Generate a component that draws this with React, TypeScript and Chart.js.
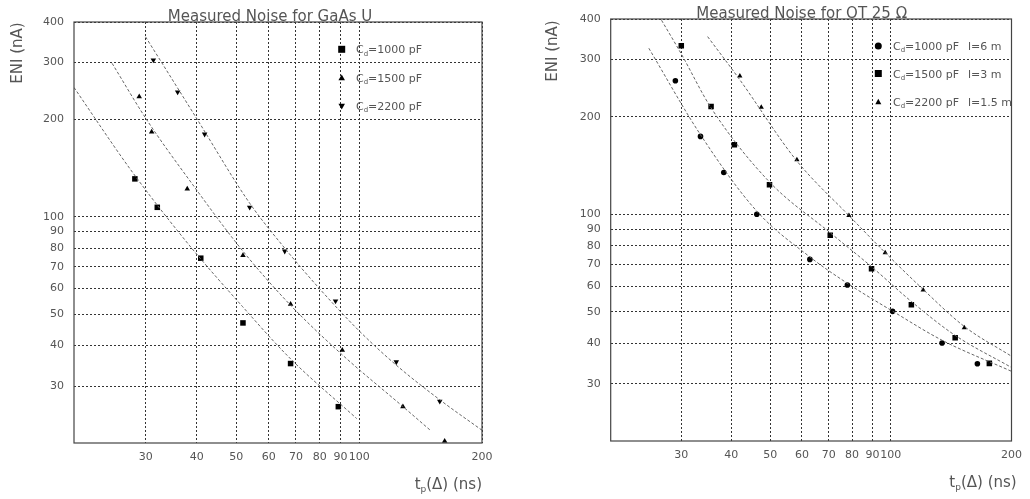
import React, { useEffect, useRef } from "react";
import { Chart, registerables } from "chart.js";

Chart.register(...registerables);

const FONT = '"DejaVu Sans", sans-serif';
const TEXT = "#555";

// Axis ticks (both panels)
const X_TICKS = [30, 40, 50, 60, 70, 80, 90, 100, 200];
const Y_TICKS = [30, 40, 50, 60, 70, 80, 90, 100, 200, 300, 400];

// ---------- Left panel: GaAs U ----------
const gaas1000X = [28.2, 32.0, 40.9, 51.9, 67.9, 88.9];
const gaas1000Y = [131, 107, 74.5, 47.0, 35.2, 25.9];
const gaas1500X = [28.9, 31.0, 37.9, 51.9, 67.9, 90.9, 128, 162];
const gaas1500Y = [235, 183, 122, 76, 53.7, 38.7, 25.9, 20.25];
const gaas2200X = [31.3, 35.9, 41.8, 53.9, 65.7, 87.5, 123.3, 157.6];
const gaas2200Y = [305, 243, 180, 107, 78.3, 54.9, 35.6, 26.9];
const gaasFit1000X = [20, 27.8, 38.3, 51.7, 67.6, 98.6];
const gaasFit1000Y = [251, 137.5, 81.8, 52.9, 36.6, 23.8];
const gaasFit1500X = [24.8, 30.07, 39.0, 51.9, 67.9, 90.6, 127.6, 149.4];
const gaasFit1500Y = [298, 200.5, 126.2, 78.3, 53.3, 37.6, 26.0, 21.9];
const gaasFit2200X = [29.95, 39.9, 53.9, 65.7, 80.1, 100.2, 123.3, 158.2, 200];
const gaasFit2200Y = [360, 202, 110.2, 80.0, 59.8, 44.3, 34.8, 27.1, 21.9];

// ---------- Right panel: OT 25 Ohm ----------
const ot1000X = [29.0, 33.5, 38.3, 46.3, 62.8, 77.9, 101, 134.2, 164.4];
const ot1000Y = [258, 173.8, 134.6, 100, 72.6, 60.5, 50.2, 40.1, 34.6];
const ot1500X = [30, 35.6, 40.7, 49.8, 70.6, 89.5, 112.5, 144.7, 176.1];
const ot1500Y = [331, 214.9, 163.8, 123.4, 86.2, 67.9, 52.6, 41.6, 34.7];
const ot2200X = [42.0, 47.5, 58.3, 78.6, 96.8, 120.4, 152.5];
const ot2200Y = [267, 213.9, 147.3, 99.1, 76.1, 58.4, 44.7];
const otFit1000X = [24.9, 33.5, 46.4, 62.6, 78.0, 101.2, 134.2, 200];
const otFit1000Y = [325, 175.9, 101.9, 74.1, 61.2, 50.2, 40.9, 32.8];
const otFit1500X = [26.4, 30.0, 35.6, 49.7, 70.5, 89.4, 112.6, 144.4, 200];
const otFit1500Y = [408.7, 312.2, 212.9, 126.1, 87.8, 69.0, 53.8, 42.4, 33.7];
const otFit2200X = [34.9, 42.0, 58.2, 78.6, 96.8, 120.5, 152.5, 200];
const otFit2200Y = [353, 259.7, 146.3, 99.1, 76.2, 58.6, 45.1, 36.5];

const pts = (xs: number[], ys: number[]) => xs.map((x, i) => ({ x, y: ys[i] }));

function markerDs(xs: number[], ys: number[], style: string, radius: number, rotation = 0) {
  return {
    data: pts(xs, ys),
    showLine: false,
    pointStyle: style,
    pointRadius: radius,
    pointHoverRadius: radius,
    pointRotation: rotation,
    backgroundColor: "#000",
    borderColor: "#000",
    borderWidth: 0,
    pointBorderWidth: 0,
  };
}

function fitDs(xs: number[], ys: number[]) {
  return {
    data: pts(xs, ys),
    showLine: true,
    pointRadius: 0,
    pointHoverRadius: 0,
    borderColor: "#666",
    borderWidth: 1,
    borderDash: [3, 2],
    cubicInterpolationMode: "monotone",
    fill: false,
  };
}

type Marker = "rect" | "tri" | "triDown" | "circle";

interface LegendItem {
  marker: Marker;
  size: number;
  value: string;
  extra?: string;
}

interface Panel {
  title: string;
  titleX: number;
  titleY: number;
  yTitleX: number;
  yTitleY: number;
  xTitleRight: number;
  xTitleY: number;
  legendX: number;
  legendYs: number[];
  legendTextX: number;
  legendExtraX: number;
  legend: LegendItem[];
  padding: { left: number; right: number; top: number; bottom: number };
  yWidth: number;
  xHeight: number;
  datasets: any[];
}

function drawMarker(ctx: CanvasRenderingContext2D, m: Marker, x: number, y: number, s: number) {
  ctx.fillStyle = "#000";
  ctx.beginPath();
  if (m === "rect") {
    ctx.rect(x - s / 2, y - s / 2, s, s);
  } else if (m === "circle") {
    ctx.arc(x, y, s / 2, 0, Math.PI * 2);
  } else if (m === "tri") {
    const h = s * 0.9;
    ctx.moveTo(x, y - h * 0.6);
    ctx.lineTo(x + s / 2, y + h * 0.4);
    ctx.lineTo(x - s / 2, y + h * 0.4);
    ctx.closePath();
  } else {
    const h = s * 0.9;
    ctx.moveTo(x, y + h * 0.6);
    ctx.lineTo(x + s / 2, y - h * 0.4);
    ctx.lineTo(x - s / 2, y - h * 0.4);
    ctx.closePath();
  }
  ctx.fill();
}

// parts: [text, isSubscript]
function drawParts(
  ctx: CanvasRenderingContext2D,
  parts: [string, boolean][],
  x: number,
  y: number,
  size: number,
  align: "left" | "right"
) {
  const subSize = Math.round(size * 0.62);
  const widths = parts.map(([t, sub]) => {
    ctx.font = `${sub ? subSize : size}px ${FONT}`;
    return ctx.measureText(t).width;
  });
  const total = widths.reduce((a, b) => a + b, 0);
  let cx = align === "left" ? x : x - total;
  ctx.textAlign = "left";
  ctx.textBaseline = "alphabetic";
  parts.forEach(([t, sub], i) => {
    ctx.font = `${sub ? subSize : size}px ${FONT}`;
    ctx.fillText(t, cx, sub ? y + size * 0.22 : y);
    cx += widths[i];
  });
}

function decorPlugin(p: Panel) {
  return {
    id: "decor",
    afterDraw(chart: any) {
      const ctx: CanvasRenderingContext2D = chart.ctx;
      const a = chart.chartArea;
      ctx.save();
      // frame
      ctx.strokeStyle = "#444";
      ctx.lineWidth = 1.2;
      ctx.setLineDash([]);
      ctx.strokeRect(a.left, a.top, a.right - a.left, a.bottom - a.top);

      ctx.fillStyle = TEXT;
      // title
      ctx.font = `15px ${FONT}`;
      ctx.textAlign = "center";
      ctx.textBaseline = "alphabetic";
      ctx.fillText(p.title, p.titleX, p.titleY);

      // y title
      ctx.save();
      ctx.translate(p.yTitleX, p.yTitleY);
      ctx.rotate(-Math.PI / 2);
      ctx.font = `15px ${FONT}`;
      ctx.textAlign = "center";
      ctx.textBaseline = "middle";
      ctx.fillText("ENI (nA)", 0, 0);
      ctx.restore();

      // x title
      ctx.fillStyle = TEXT;
      drawParts(
        ctx,
        [
          ["t", false],
          ["p", true],
          ["(\u0394) (ns)", false],
        ],
        p.xTitleRight,
        p.xTitleY,
        15,
        "right"
      );

      // legend
      p.legend.forEach((item, i) => {
        const y = p.legendYs[i];
        drawMarker(ctx, item.marker, p.legendX, y, item.size);
        ctx.fillStyle = TEXT;
        drawParts(
          ctx,
          [
            ["C", false],
            ["d", true],
            ["=" + item.value, false],
          ],
          p.legendTextX,
          y + 4,
          11,
          "left"
        );
        if (item.extra) {
          ctx.font = `11px ${FONT}`;
          ctx.textAlign = "left";
          ctx.textBaseline = "alphabetic";
          ctx.fillText(item.extra, p.legendExtraX, y + 4);
        }
      });
      ctx.restore();
    },
  };
}

function makeScales(p: Panel) {
  const grid = { color: "#333", lineWidth: 1, drawTicks: false, borderDash: [2, 2] };
  const border = { display: false, dash: [2, 2] };
  const tickFont = { family: FONT, size: 11 };
  return {
    x: {
      type: "logarithmic",
      min: 20,
      max: 200,
      grid,
      border,
      afterBuildTicks: (s: any) => {
        s.ticks = X_TICKS.map((v) => ({ value: v }));
      },
      afterFit: (s: any) => {
        s.height = p.xHeight;
      },
      ticks: {
        autoSkip: false,
        maxRotation: 0,
        minRotation: 0,
        padding: 8,
        color: TEXT,
        font: tickFont,
        callback: (v: any) => String(v),
      },
    },
    y: {
      type: "logarithmic",
      min: 20,
      max: 400,
      grid,
      border,
      afterBuildTicks: (s: any) => {
        s.ticks = Y_TICKS.map((v) => ({ value: v }));
      },
      afterFit: (s: any) => {
        s.width = p.yWidth;
      },
      ticks: {
        autoSkip: false,
        padding: 10,
        color: TEXT,
        font: tickFont,
        callback: (v: any) => String(v),
      },
    },
  };
}

const leftPanel: Panel = {
  title: "Measured Noise for GaAs U",
  titleX: 270,
  titleY: 20.5,
  yTitleX: 18,
  yTitleY: 53,
  xTitleRight: 482,
  xTitleY: 489,
  legendX: 341.7,
  legendYs: [49.3, 78, 106],
  legendTextX: 356,
  legendExtraX: 0,
  legend: [
    { marker: "rect", size: 7, value: "1000 pF" },
    { marker: "tri", size: 6.5, value: "1500 pF" },
    { marker: "triDown", size: 6.5, value: "2200 pF" },
  ],
  padding: { left: 0, right: 33, top: 22, bottom: 0 },
  yWidth: 74,
  xHeight: 56,
  datasets: [
    fitDs(gaasFit1000X, gaasFit1000Y),
    fitDs(gaasFit1500X, gaasFit1500Y),
    fitDs(gaasFit2200X, gaasFit2200Y),
    markerDs(gaas1000X, gaas1000Y, "rect", 3.9),
    markerDs(gaas1500X, gaas1500Y, "triangle", 3.2),
    markerDs(gaas2200X, gaas2200Y, "triangle", 3.2, 180),
  ],
};

const rightPanel: Panel = {
  title: "Measured Noise for OT 25 \u03A9",
  titleX: 286.7,
  titleY: 18.3,
  yTitleX: 38.3,
  yTitleY: 51,
  xTitleRight: 501.7,
  xTitleY: 487,
  legendX: 363.3,
  legendYs: [46, 73.5, 102],
  legendTextX: 378,
  legendExtraX: 453,
  legend: [
    { marker: "circle", size: 7, value: "1000 pF", extra: "l=6 m" },
    { marker: "rect", size: 7, value: "1500 pF", extra: "l=3 m" },
    { marker: "tri", size: 6, value: "2200 pF", extra: "l=1.5 m" },
  ],
  padding: { left: 0, right: 12.7, top: 19, bottom: 0 },
  yWidth: 95.7,
  xHeight: 58,
  datasets: [
    fitDs(otFit1000X, otFit1000Y),
    fitDs(otFit1500X, otFit1500Y),
    fitDs(otFit2200X, otFit2200Y),
    markerDs(ot1000X, ot1000Y, "circle", 2.8),
    markerDs(ot1500X, ot1500Y, "rect", 3.9),
    markerDs(ot2200X, ot2200Y, "triangle", 3.0),
  ],
};

function PanelChart({ panel, left }: { panel: Panel; left: number }) {
  const ref = useRef<HTMLCanvasElement | null>(null);
  useEffect(() => {
    if (!ref.current) return;
    const chart = new Chart(ref.current, {
      type: "scatter",
      data: { datasets: panel.datasets as any },
      options: {
        animation: false,
        responsive: false,
        events: [],
        layout: { padding: panel.padding },
        scales: makeScales(panel) as any,
        plugins: {
          legend: { display: false },
          title: { display: false },
          tooltip: { enabled: false },
        },
      },
      plugins: [decorPlugin(panel)],
    });
    return () => chart.destroy();
  }, [panel]);
  return (
    <canvas
      ref={ref}
      width={515}
      height={499}
      style={{ position: "absolute", left, top: 0, width: 515, height: 499 }}
    />
  );
}

export default function App() {
  return (
    <div
      style={{
        position: "fixed",
        left: 0,
        top: 0,
        width: 1030,
        height: 499,
        background: "#fff",
      }}
    >
      <PanelChart panel={leftPanel} left={0} />
      <PanelChart panel={rightPanel} left={515} />
    </div>
  );
}
